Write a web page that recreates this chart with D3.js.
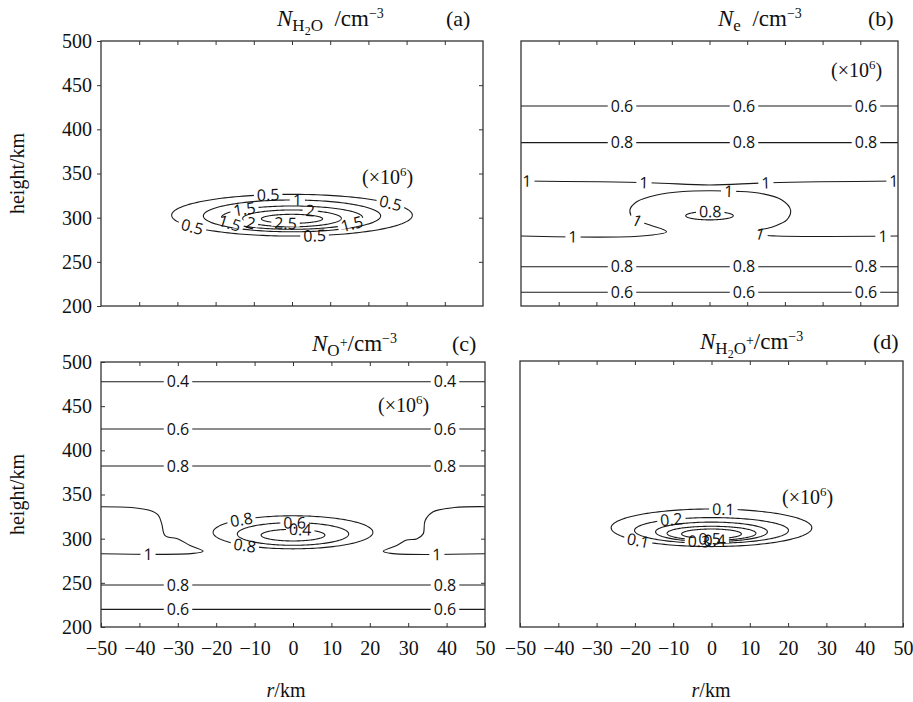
<!DOCTYPE html>
<html>
<head>
<meta charset="utf-8">
<script src="https://cdn.jsdelivr.net/npm/d3@7"></script>
<style>
  body { margin: 0; background: #fff; }
  svg text { font-family: "Liberation Serif", "Times New Roman", serif; }
  svg .clab text { font-family: "Open Sans", "DejaVu Sans", sans-serif; }
</style>
</head>
<body>
<div id="chart"></div>
<script>
const width = 913;
const height = 702;

const rTicks = [-50, -40, -30, -20, -10, 0, 10, 20, 30, 40, 50];
const hTicks = [200, 250, 300, 350, 400, 450, 500];

// (a) N_H2O, closed contours centred on r = 0  (x10^6 cm^-3)
const h2oLevels = [0.5, 1, 1.5, 2, 2.5];
const h2oMidH = [302.8, 302, 300, 299.2, 298.7];
const h2oHalfR = [31.5, 23.2, 18.5, 12.9, 8];
const h2oHalfH = [23.6, 18, 13.2, 9.5, 5.1];
const h2oLabels = [[0.5, -6.3, 323.4], [0.5, 25.7, 316.6], [0.5, -26.2, 288.3], [0.5, 6, 278.1],
  [1, 1.3, 317.7], [1.5, -12.3, 308.7], [1.5, -16.2, 295], [1.5, 15.7, 291.7],
  [2, 4.7, 307.5], [2, -11, 292.8], [2.5, -1.8, 293.6]];

// (b) N_e
const neFlatLevels = [0.6, 0.8, 0.8, 0.6];
const neFlatH = [426.4, 384.9, 244.5, 215.5];
const neUpperOne = [[-50, 341.5], [-16, 339.6], [0, 337], [16, 339.6], [50, 341.5]];
const neLowerOne = [[-50, 279.2], [-18, 279.2], [-11.4, 284.1], [-15.8, 291.7], [-20.2, 299.3],
  [-21.1, 308.7], [-19.3, 318], [-14, 325.7], [-7, 329.6], [0, 330.4], [7, 329.8], [13.4, 327.6],
  [19.2, 320], [21.5, 308.7], [20.5, 297.4], [16.9, 289.8], [12.1, 284.1], [14.3, 280.4],
  [17.8, 279.2], [50, 279.2]];
const neHole = [0.8, 302.2, 6.3, 4.7]; // level, mid height, half r, half h
const neLabels = [[0.6, -23.3, 426.4], [0.6, 9.2, 426.4], [0.6, 41.5, 426.4],
  [0.8, -23.3, 384.9], [0.8, 9.2, 384.9], [0.8, 41.5, 384.9],
  [1, -48.5, 341.5], [1, -17.4, 339.4], [1, 14.9, 339.5], [1, 48.8, 341.5],
  [1, 5, 329.4], [1, -19.3, 295.4], [1, -36.1, 279.2], [1, 13.4, 280.4], [1, 46.1, 279.2],
  [0.8, 0.1, 305],
  [0.8, -23.3, 244.5], [0.8, 9.2, 244.5], [0.8, 41.5, 244.5],
  [0.6, -23.3, 215.5], [0.6, 9.2, 215.5], [0.6, 41.5, 215.5]];

// (c) N_O+
const opFlatLevels = [0.4, 0.6, 0.8, 0.8, 0.6];
const opFlatH = [477.7, 424.1, 382.3, 247.5, 220];
const opLeftOne = [[-50, 336.2], [-42, 335.2], [-37.2, 331.8], [-35.1, 326.6], [-34.2, 317.1],
  [-33.3, 303.4], [-29.9, 299.7], [-26.8, 292.2], [-23.4, 285.8], [-26, 283.3], [-50, 283]];
const opRightOne = [[50, 336.2], [42, 335.2], [36.5, 330.4], [34.4, 320.4], [33.9, 305.4],
  [32.2, 299.7], [29.6, 298.6], [27, 292.2], [23.5, 285.8], [25.5, 283.3], [50, 283]];
const opHoleLevels = [0.8, 0.6, 0.4];
const opHoleMidH = [307.2, 305.3, 304];
const opHoleHalfR = [20.8, 14.5, 8.3];
const opHoleHalfH = [18.7, 12.8, 6.6];
const opLabels = [[0.4, -29.9, 477.7], [0.4, 39.6, 477.7], [0.6, -29.9, 424.1], [0.6, 39.6, 424.1],
  [0.8, -29.9, 382.3], [0.8, 39.6, 382.3], [1, -37.7, 283], [1, 37.4, 283],
  [0.8, -29.9, 247.5], [0.8, 39.6, 247.5], [0.6, -29.9, 220], [0.6, 39.6, 220],
  [0.8, -13.4, 321.1], [0.8, -12.5, 292.8], [0.6, 0.5, 319.2], [0.4, 1.8, 310.6]];

// (d) N_H2O+
const hopLevels = [0.1, 0.2, 0.3, 0.4, 0.5];
const hopMidH = [311.9, 308.9, 307.3, 305.7, 305];
const hopHalfR = [26.2, 20.1, 14.6, 11.6, 7.8];
const hopHalfH = [21.2, 14.5, 11, 7.9, 5.5];
const hopLabels = [[0.1, 3.1, 330], [0.2, -10.5, 320.7], [0.1, -19.2, 296.5],
  [0.3, -3.3, 295], [0.4, 0.8, 295], [0.5, -0.4, 299]];

function ring(h0, a, b) {
  return d3.range(0, 360, 2).map(deg => {
    const t = deg * Math.PI / 180;
    return [a * Math.cos(t), h0 + b * Math.sin(t)];
  });
}
const flat = h => [[-50, h], [50, h]];

const panels = [
  {
    xr: [101, 483], yr: [306, 41],
    contours: h2oLevels.map((v, i) => ({ level: v, pts: ring(h2oMidH[i], h2oHalfR[i], h2oHalfH[i]), closed: true })),
    labels: h2oLabels,
    sides: { top: true, bottom: true, right: true, left: "out" }, yText: true, xText: false,
    title: [["N", 23, 0, true], ["H", 17, 5], ["2", 12, 9], ["O", 17, 5], ["\u2002/cm", 23, 0], ["\u22123", 14, -8]],
    titleX: 277, titleY: 26, tag: "(a)", tagX: 446, noteX: 362, noteY: 184
  },
  {
    xr: [521, 898], yr: [306, 41],
    contours: neFlatLevels.map((v, i) => ({ level: v, pts: flat(neFlatH[i]) }))
      .concat([{ level: 1, pts: neUpperOne }, { level: 1, pts: neLowerOne },
        { level: neHole[0], pts: ring(neHole[1], neHole[2], neHole[3]), closed: true }]),
    labels: neLabels,
    sides: { top: true, bottom: true }, yText: false, xText: false,
    title: [["N", 23, 0, true], ["e", 17, 5], ["\u2002/cm", 23, 0], ["\u22123", 14, -8]],
    titleX: 718, titleY: 26, tag: "(b)", tagX: 868, noteX: 831, noteY: 77
  },
  {
    xr: [101, 485], yr: [627, 362],
    contours: opFlatLevels.map((v, i) => ({ level: v, pts: flat(opFlatH[i]) }))
      .concat([{ level: 1, pts: opLeftOne }, { level: 1, pts: opRightOne }])
      .concat(opHoleLevels.map((v, i) => ({ level: v, pts: ring(opHoleMidH[i], opHoleHalfR[i], opHoleHalfH[i]), closed: true }))),
    labels: opLabels,
    sides: { top: true, bottom: true, right: true, left: "in" }, yText: true, xText: true,
    title: [["N", 23, 0, true], ["O", 17, 5], ["+", 14, -4], ["/cm", 23, 0], ["\u22123", 14, -8]],
    titleX: 312, titleY: 351, tag: "(c)", tagX: 452, noteX: 378, noteY: 412
  },
  {
    xr: [520, 903], yr: [627, 361],
    contours: hopLevels.map((v, i) => ({ level: v, pts: ring(hopMidH[i], hopHalfR[i], hopHalfH[i]), closed: true })),
    labels: hopLabels,
    sides: { top: true, bottom: true }, yText: false, xText: true,
    title: [["N", 23, 0, true], ["H", 17, 5], ["2", 12, 9], ["O", 17, 5], ["+", 14, -4], ["/cm", 23, 0], ["\u22123", 14, -8]],
    titleX: 700, titleY: 349, tag: "(d)", tagX: 873, noteX: 782, noteY: 504
  }
];

const svg = d3.select("#chart")
  .append("svg")
  .attr("width", width)
  .attr("height", height);

function rich(sel, x, y, parts) {
  const t = sel.append("text").attr("x", x).attr("y", y).attr("fill", "#111");
  parts.forEach(([s, size, shift, italic]) => {
    t.append("tspan")
      .attr("y", y + shift)
      .attr("font-size", size)
      .attr("font-style", italic ? "italic" : null)
      .text(s);
  });
  return t;
}

function styleAxis(g) {
  g.select(".domain").remove();
  g.attr("font-family", null).attr("font-size", null);
  g.selectAll("line").attr("stroke", "#333").attr("stroke-width", 1);
  g.selectAll("text").attr("font-size", 20).attr("fill", "#111");
}

panels.forEach((p, pi) => {
  const x = d3.scaleLinear().domain([-50, 50]).range(p.xr);
  const y = d3.scaleLinear().domain([200, 500]).range(p.yr);
  const g = svg.append("g");

  const clipId = "clip" + pi;
  g.append("clipPath").attr("id", clipId)
    .append("rect")
    .attr("x", p.xr[0]).attr("y", p.yr[1])
    .attr("width", p.xr[1] - p.xr[0]).attr("height", p.yr[0] - p.yr[1]);

  const line = d3.line().x(d => x(d[0])).y(d => y(d[1]));
  const lineG = g.append("g").attr("clip-path", `url(#${clipId})`);
  const paths = p.contours.map(c => {
    const path = lineG.append("path")
      .attr("d", line.curve(c.closed ? d3.curveLinearClosed : d3.curveCatmullRom.alpha(0.5))(c.pts))
      .attr("fill", "none")
      .attr("stroke", "#1a1a1a")
      .attr("stroke-width", 1.1);
    return { level: c.level, node: path.node() };
  });

  // contour labels: snap to nearest line of same level, rotate along it
  const gaps = g.append("g");
  const texts = g.append("g").attr("class", "clab").attr("font-size", 16).attr("fill", "#111");
  p.labels.forEach(([v, r, h]) => {
    const px = x(r), py = y(h);
    let best = null;
    paths.filter(q => q.level === v).forEach(q => {
      const len = q.node.getTotalLength();
      for (let l = 0; l <= len; l += 1) {
        const pt = q.node.getPointAtLength(l);
        const d = (pt.x - px) ** 2 + (pt.y - py) ** 2;
        if (!best || d < best.d) best = { d, node: q.node, l, len, pt };
      }
    });
    if (!best) return;
    const a = best.node.getPointAtLength(Math.max(0, best.l - 4));
    const b = best.node.getPointAtLength(Math.min(best.len, best.l + 4));
    let ang = Math.atan2(b.y - a.y, b.x - a.x) * 180 / Math.PI;
    if (ang > 90) ang -= 180;
    if (ang < -90) ang += 180;
    const tf = `translate(${best.pt.x},${best.pt.y}) rotate(${ang})`;
    const t = texts.append("text")
      .attr("transform", tf)
      .attr("text-anchor", "middle")
      .attr("dy", "0.36em")
      .text(String(v));
    const w = t.node().getComputedTextLength() + 6;
    gaps.append("rect")
      .attr("transform", tf)
      .attr("x", -w / 2).attr("y", -3)
      .attr("width", w).attr("height", 6)
      .attr("fill", "#fff");
  });

  // frame
  g.append("rect")
    .attr("x", p.xr[0]).attr("y", p.yr[1])
    .attr("width", p.xr[1] - p.xr[0]).attr("height", p.yr[0] - p.yr[1])
    .attr("fill", "none").attr("stroke", "#333").attr("stroke-width", 1.3);

  // ticks
  const innerX = rTicks.slice(1, -1);
  if (p.sides.top) {
    g.append("g").attr("transform", `translate(0,${p.yr[1]})`)
      .call(d3.axisBottom(x).tickValues(innerX).tickSize(4).tickFormat(""))
      .call(styleAxis);
  }
  if (p.sides.bottom) {
    const ax = d3.axisBottom(x).tickSizeOuter(0);
    if (p.xText) ax.tickValues(rTicks).tickSizeInner(-4).tickPadding(14).tickFormat(d3.format("d"));
    else ax.tickValues(innerX).tickSizeInner(-4).tickFormat("");
    g.append("g").attr("transform", `translate(0,${p.yr[0]})`).call(ax).call(styleAxis);
  }
  if (p.sides.right) {
    g.append("g").attr("transform", `translate(${p.xr[1]},0)`)
      .call(d3.axisLeft(y).tickValues(hTicks.slice(1, -1)).tickSize(4).tickFormat(""))
      .call(styleAxis);
  }
  if (p.sides.left) {
    const ax = d3.axisLeft(y).tickValues(hTicks).tickSizeOuter(0).tickFormat(d3.format("d"));
    if (p.sides.left === "out") ax.tickSizeInner(4).tickPadding(5);
    else ax.tickSizeInner(-4).tickPadding(9);
    g.append("g").attr("transform", `translate(${p.xr[0]},0)`).call(ax).call(styleAxis);
  }

  // titles
  rich(g, p.titleX, p.titleY, p.title);
  g.append("text").attr("x", p.tagX).attr("y", p.titleY).attr("font-size", 22).attr("fill", "#111").text(p.tag);
  rich(g, p.noteX, p.noteY, [["(\u00d710", 20, 0], ["6", 13, -8], [")", 20, 0]]);
});

// axis titles
[173.5, 494.5].forEach(cy => {
  svg.append("text")
    .attr("transform", `translate(17,${cy}) rotate(-90)`)
    .attr("text-anchor", "middle")
    .attr("dy", "0.35em")
    .attr("font-size", 20)
    .attr("fill", "#111")
    .text("height/km");
});
[286, 711].forEach(cx => {
  const t = svg.append("text")
    .attr("x", cx).attr("y", 697)
    .attr("text-anchor", "middle")
    .attr("font-size", 20)
    .attr("fill", "#111");
  t.append("tspan").attr("font-style", "italic").text("r");
  t.append("tspan").text("/km");
});
</script>
</body>
</html>
